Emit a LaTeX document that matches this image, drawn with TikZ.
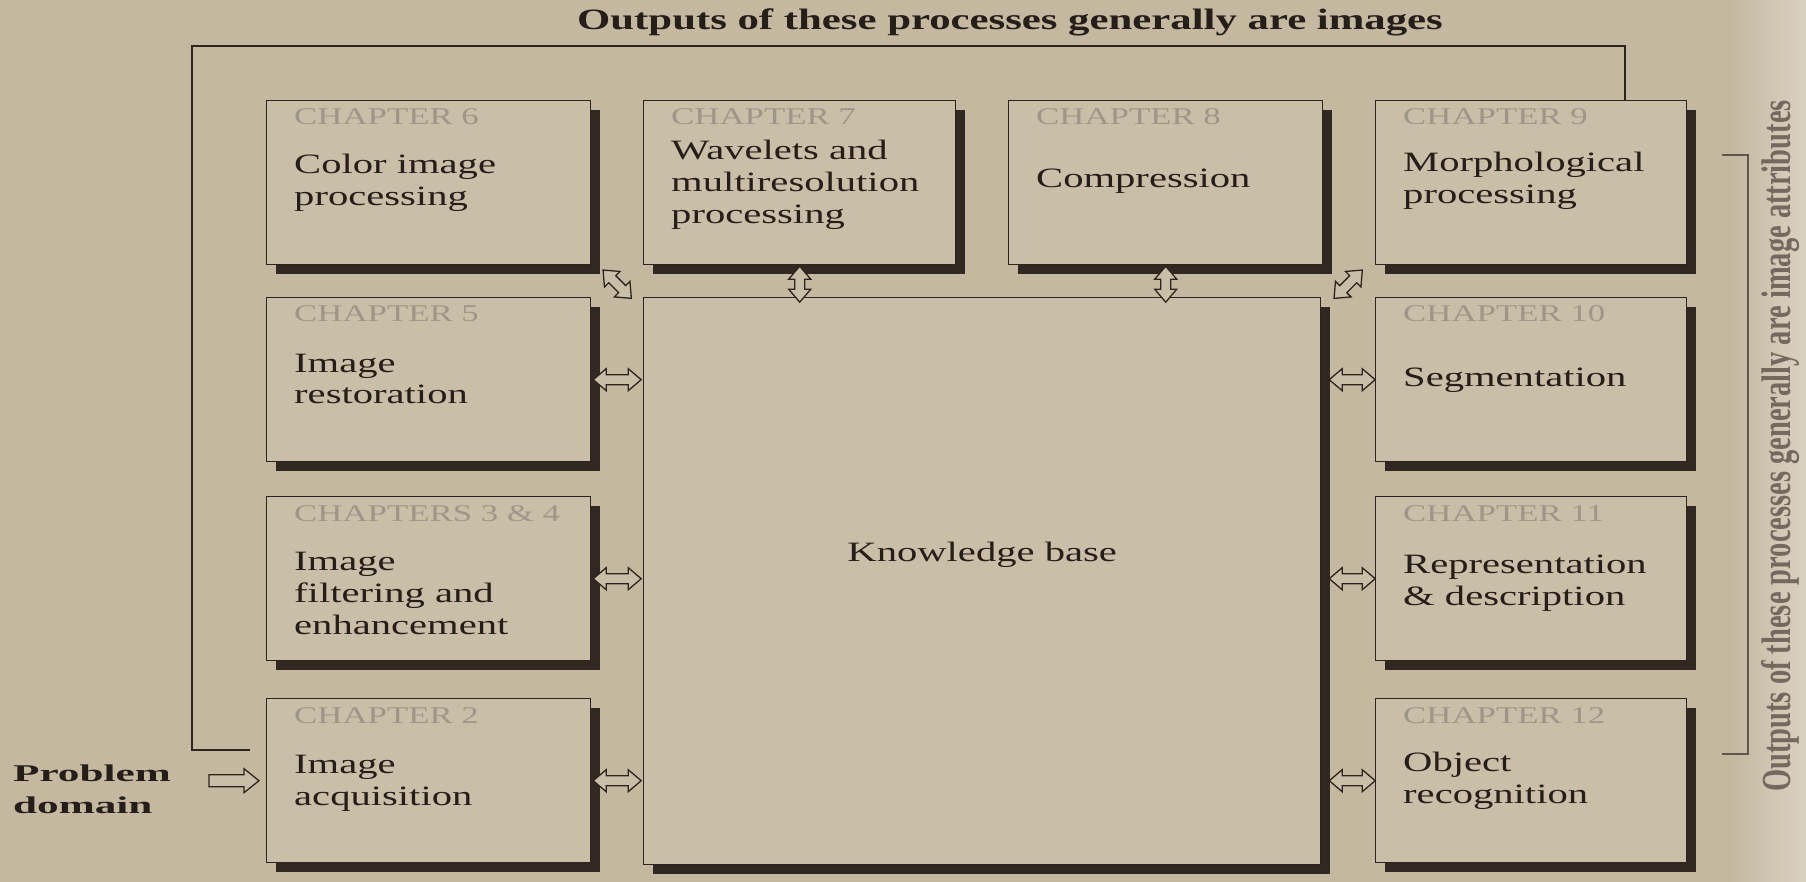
\documentclass[tikz,border=0pt]{standalone}
\usepackage{fontspec}
\setmainfont{Liberation Serif}[FakeStretch=1.45]
\newfontfamily\rotfont{Liberation Serif}
\newfontfamily\pdfont{Liberation Serif}[FakeStretch=1.8]
\usetikzlibrary{calc}
\definecolor{bgcol}{RGB}{196,184,160}
\definecolor{boxcol}{RGB}{201,190,167}
\definecolor{linecol}{RGB}{45,36,30}
\definecolor{shcol}{RGB}{50,40,34}
\definecolor{txtcol}{RGB}{38,30,24}
\definecolor{chapcol}{RGB}{158,150,136}
\definecolor{rotcol}{RGB}{115,105,95}
\definecolor{brkcol}{RGB}{95,86,76}
\newcommand\chbox[8]{%
  \fill[shcol] (#2+10,#3+10) rectangle (#2+#4+10,#3+#5+10);
  \node[box, minimum width=#4, minimum height=#5, anchor=north west] (#1) at (#2,#3) {};
  \node[chap, anchor=base west] (#1c) at ([xshift=28pt,yshift=-25pt]#1.north west) {#6};
  \node[btxt, anchor=base west] (#1t) at ([xshift=28pt,yshift=-#7pt]#1.north west) {\begin{tabular}[t]{@{}l@{}}#8\end{tabular}};
}
% hollow double arrow: #1 centre coordinate, #2 angle, #3 length
\newcommand\hollowdbl[3]{%
  \begin{scope}[shift={(#1)}, rotate=#2]
    \filldraw[arrst] (-#3/2,0) -- (-#3/2+13,11) -- (-#3/2+13,5) -- (#3/2-13,5) -- (#3/2-13,11)
      -- (#3/2,0) -- (#3/2-13,-11) -- (#3/2-13,-5) -- (-#3/2+13,-5) -- (-#3/2+13,-11) -- cycle;
  \end{scope}}
\begin{document}
\begin{tikzpicture}[x=1pt,y=-1pt,
  box/.style={draw=linecol, fill=boxcol, line width=1.4pt, inner sep=0pt},
  btxt/.style={font=\fontsize{28}{32}\selectfont, text=txtcol, inner sep=0pt},
  chap/.style={font=\fontsize{24}{28}\selectfont, text=chapcol, inner sep=0pt},
  arrst/.style={draw=linecol, fill=boxcol, line width=1.3pt, line join=miter},
]
\useasboundingbox (0,0) rectangle (1806,882);
\fill[bgcol] (0,0) rectangle (1806,882);
\shade[left color=bgcol, right color=bgcol!65!white] (1730,0) rectangle (1806,882);

% title
\node[font=\bfseries\fontsize{29.5}{34}\selectfont, text=txtcol, inner sep=0pt, anchor=base] (title) at (1010,30) {Outputs of these processes generally are images};

% boxes
\chbox{ch6}{266}{100}{324}{164}{CHAPTER 6}{74}{Color image\\processing}
\chbox{ch7}{643}{100}{312}{164}{CHAPTER 7}{60}{Wavelets and\\multiresolution\\processing}
\chbox{ch8}{1008}{100}{314}{164}{CHAPTER 8}{88}{Compression}
\chbox{ch9}{1375}{100}{311}{164}{CHAPTER 9}{72}{Morphological\\processing}
\chbox{ch5}{266}{297}{324}{164}{CHAPTER 5}{75}{Image\\restoration}
\chbox{ch34}{266}{496}{324}{164}{CHAPTERS 3 \& 4}{74}{Image\\filtering and\\enhancement}
\chbox{ch2}{266}{698}{324}{164}{CHAPTER 2}{75}{Image\\acquisition}
\chbox{ch10}{1375}{297}{311}{164}{CHAPTER 10}{89}{Segmentation}
\chbox{ch11}{1375}{496}{311}{164}{CHAPTER 11}{77}{Representation\\\& description}
\chbox{ch12}{1375}{698}{311}{164}{CHAPTER 12}{73}{Object\\recognition}
\fill[shcol] (653,307) rectangle (1330,874);
\node[box, minimum width=677, minimum height=567, anchor=north west] (kb) at (643,297) {};
\node[btxt, anchor=base] (kbt) at (kb.center |- 0,561) {Knowledge base};

% double arrows between the boxes and the knowledge base
\coordinate (a6) at ($(ch6.south east)!.5!(kb.north west)+(0,3)$);
\coordinate (a7) at ($(ch7.south)!.5!(ch7.south |- kb.north)+(0,3)$);
\coordinate (a8) at ($(ch8.south)!.5!(ch8.south |- kb.north)+(0,3)$);
\coordinate (a9) at ($(ch9.south west)!.5!(kb.north east)+(0,3)$);
\coordinate (a5) at ($(ch5.east)!.5!(ch5.east -| kb.west)$);
\coordinate (a34) at ($(ch34.east)!.5!(ch34.east -| kb.west)$);
\coordinate (a2) at ($(ch2.east)!.5!(ch2.east -| kb.west)$);
\coordinate (a10) at ($(ch10.west)!.5!(ch10.west -| kb.east)+(4,0)$);
\coordinate (a11) at ($(ch11.west)!.5!(ch11.west -| kb.east)+(4,0)$);
\coordinate (a12) at ($(ch12.west)!.5!(ch12.west -| kb.east)+(4,0)$);
\hollowdbl{a6}{-45}{40}
\hollowdbl{a7}{90}{36}
\hollowdbl{a8}{90}{36}
\hollowdbl{a9}{45}{40}
\hollowdbl{a5}{0}{48}
\hollowdbl{a34}{0}{48}
\hollowdbl{a2}{0}{48}
\hollowdbl{a10}{0}{46}
\hollowdbl{a11}{0}{46}
\hollowdbl{a12}{0}{46}

% problem domain
\node[font=\pdfont\bfseries\fontsize{24}{32}\selectfont, text=txtcol, inner sep=0pt, anchor=base west] (pd) at (13,781) {\begin{tabular}[t]{@{}l@{}}Problem\\domain\end{tabular}};
\coordinate (pa) at ([xshift=-32pt]ch2.west);
\begin{scope}[shift={(pa)}]
  \filldraw[arrst] (-25,-6) -- (10,-6) -- (10,-12) -- (25,0) -- (10,12) -- (10,6) -- (-25,6) -- cycle;
\end{scope}

% top feedback line
\coordinate (b0) at (250,750);
\coordinate (b1) at (192,750);
\coordinate (b2) at (192,46);
\coordinate (b3) at (1625,46);
\draw[linecol, line width=1.8pt] (b0) -- (b1) -- (b2) -- (b3) -- (b3 |- ch9.north);

% right bracket
\coordinate (r0) at (1722,155);
\coordinate (r1) at (1748,155);
\coordinate (r2) at (1748,754);
\coordinate (r3) at (1722,754);
\draw[brkcol, line width=1.4pt] (r0) -- (r1) -- (r2) -- (r3);
\node[rotate=90, font=\rotfont\bfseries\fontsize{28.5}{32}\selectfont, text=rotcol, inner sep=0pt] (rt) at (1780,446) {\scalebox{1}[1.45]{Outputs of these processes generally are image attributes}};
\end{tikzpicture}
\end{document}
